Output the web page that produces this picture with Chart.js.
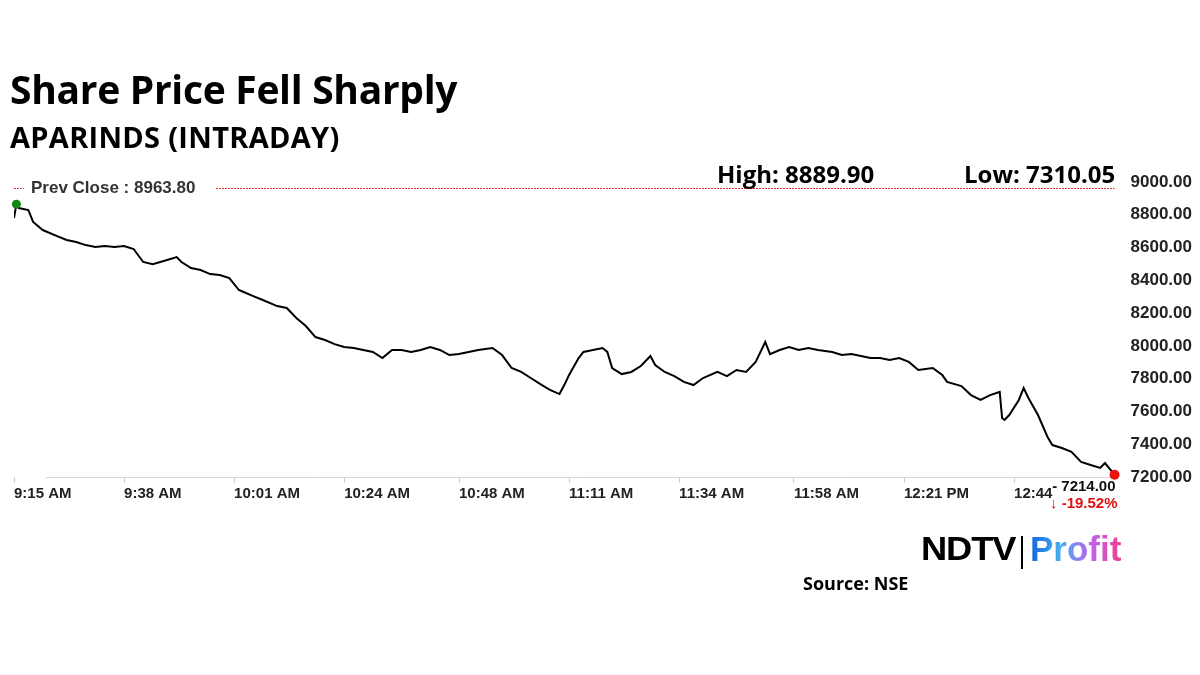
<!DOCTYPE html>
<html>
<head>
<meta charset="utf-8">
<script src="https://cdn.jsdelivr.net/npm/chart.js@4"></script>
<style>
  body { margin: 0; background: #fff; width: 1200px; height: 675px; overflow: hidden; position: relative; font-family: "Open Sans", sans-serif; }
  #wrap { position: absolute; left: 0; top: 0; width: 1200px; height: 675px; }
  .t { position: absolute; font-weight: 700; color: #000; white-space: nowrap; }
</style>
</head>
<body>
<div id="wrap"><canvas id="c" width="1200" height="675"></canvas></div>
<div class="t" style="left:10px;top:62px;font-size:39px;letter-spacing:-0.3px;">Share Price Fell Sharply</div>
<div class="t" style="left:10px;top:117px;font-size:29px;letter-spacing:0.3px;">APARINDS (INTRADAY)</div>
<div class="t" style="left:717px;top:157px;font-size:24px;">High: 8889.90</div>
<div class="t" style="left:964px;top:157px;font-size:24px;">Low: 7310.05</div>
<div class="t" style="left:921px;top:530px;font-size:33px;font-family:'Liberation Sans',sans-serif;font-weight:900;letter-spacing:-1px;transform:scaleX(1.1);transform-origin:left;">NDTV</div>
<div style="position:absolute;left:1021px;top:536px;width:2px;height:33px;background:#000;"></div>
<div class="t" style="left:1030px;top:529px;font-size:35px;font-family:'Liberation Sans',sans-serif;background:linear-gradient(90deg,#1565e0,#44b0f0,#c060f0,#f04090);-webkit-background-clip:text;color:transparent;">Profit</div>
<div class="t" style="left:803px;top:571px;font-size:18px;">Source: NSE</div>
<script>
// minutes after 9:15
const minutes = [0,0.5,1,3,4,6,9,11,13,15,17,19,21,23,25,27,29,32,34,35,37,39,41,43,45,47,48,50,52,55,57,59,61,63,65,67,69,71,73,75,77,79,81,83,85,87,89,91,93,95,97,100,102,104,106,108,110,112,114,115,116,118,119,121,123,124,125,127,129,131,133,134,136,138,140,142,144,147,149,151,153,155,157,158,160,162,164,166,168,171,173,175,177,179,181,183,185,187,189,192,194,195,198,200,202,204,206,206.5,207,208,210,211,212,214,216,217,219,221,223,225,227,228,230];
const prices = [8780,8865,8841,8829,8756,8707,8670,8646,8634,8615,8603,8609,8603,8609,8591,8512,8499,8524,8542,8512,8475,8463,8438,8432,8414,8341,8329,8304,8280,8243,8231,8170,8121,8054,8036,8011,7993,7987,7975,7963,7926,7975,7975,7963,7975,7993,7975,7944,7950,7963,7975,7987,7944,7865,7841,7804,7767,7731,7706,7761,7822,7926,7963,7975,7987,7963,7865,7828,7841,7877,7938,7883,7841,7816,7780,7761,7804,7841,7816,7853,7841,7902,8024,7950,7975,7993,7975,7987,7975,7963,7944,7950,7938,7926,7926,7914,7926,7902,7853,7865,7822,7780,7755,7700,7670,7700,7719,7560,7548,7578,7670,7743,7682,7578,7444,7395,7377,7353,7292,7273,7255,7285,7214];
const tickMinutes = [0,23,46,69,93,116,139,163,186,209];
const tickLabels = ['9:15 AM','9:38 AM','10:01 AM','10:24 AM','10:48 AM','11:11 AM','11:34 AM','11:58 AM','12:21 PM','12:44'];
const yTicks = [7200,7400,7600,7800,8000,8200,8400,8600,8800,9000];
const prevClose = 8963.80;
const lastPrice = 7214.00;
const changePct = '-19.52%';

const overlay = {
  id: 'overlay',
  beforeDatasetsDraw(chart) {
    const { ctx, chartArea } = chart;
    const by = Math.round(chartArea.bottom) + 0.5;
    ctx.save();
    ctx.strokeStyle = '#d8d8d8';
    ctx.lineWidth = 1;
    ctx.beginPath();
    ctx.moveTo(46, by); ctx.lineTo(chartArea.right, by);
    ctx.stroke();
    ctx.restore();
  },
  afterDatasetsDraw(chart) {
    const { ctx, scales: { x, y }, chartArea } = chart;
    const py = Math.round(y.getPixelForValue(prevClose)) + 0.5;
    ctx.save();
    ctx.strokeStyle = '#e03030';
    ctx.lineWidth = 1;
    ctx.setLineDash([2, 1]);
    ctx.beginPath();
    ctx.moveTo(chartArea.left, py); ctx.lineTo(chartArea.left + 10, py);
    ctx.moveTo(216, py); ctx.lineTo(chartArea.right, py);
    ctx.stroke();
    ctx.setLineDash([]);
    ctx.font = 'bold 17px "Liberation Sans", Arial';
    ctx.fillStyle = '#333';
    ctx.textBaseline = 'middle';
    ctx.fillText('Prev Close : ' + prevClose.toFixed(2), 31, py);
    // start / end dots
    const sx = x.getPixelForValue(minutes[1]), sy = y.getPixelForValue(prices[1]);
    ctx.fillStyle = '#118811';
    ctx.beginPath(); ctx.arc(sx, sy, 4.5, 0, Math.PI * 2); ctx.fill();
    const n = prices.length - 1;
    const ex = x.getPixelForValue(minutes[n]), ey = y.getPixelForValue(prices[n]);
    ctx.fillStyle = '#ee1111';
    ctx.beginPath(); ctx.arc(ex, ey, 5, 0, Math.PI * 2); ctx.fill();
    ctx.textAlign = 'right';
    ctx.fillStyle = '#111';
    ctx.font = 'bold 15px "Liberation Sans", Arial';
    ctx.fillText('- ' + lastPrice.toFixed(2), ex + 1, chartArea.bottom + 10);
    ctx.fillStyle = '#e01010';
    ctx.fillText('\u2193 ' + changePct, ex + 3, chartArea.bottom + 27);
    ctx.restore();
  }
};

new Chart(document.getElementById('c'), {
  type: 'line',
  data: {
    datasets: [{
      data: minutes.map((m, i) => ({ x: m, y: prices[i] })),
      borderColor: '#000',
      borderWidth: 2,
      pointRadius: 0,
      tension: 0
    }]
  },
  options: {
    responsive: false,
    animation: false,
    layout: { padding: { left: 14, top: 182, right: 0, bottom: 170 } },
    plugins: { legend: { display: false }, tooltip: { enabled: false } },
    scales: {
      x: {
        type: 'linear', min: 0, max: 230,
        afterBuildTicks: s => { s.ticks = tickMinutes.map(v => ({ value: v })); },
        ticks: {
          callback: (v) => tickLabels[tickMinutes.indexOf(v)],
          color: '#222', font: { family: 'Liberation Sans', size: 15, weight: 'bold' },
          maxRotation: 0, autoSkip: false, padding: 2, align: 'start'
        },
        grid: { display: true, drawOnChartArea: false, tickLength: 6, color: '#ccc' },
        border: { display: false }
      },
      y: {
        position: 'right', min: 7200, max: 9000,
        afterBuildTicks: s => { s.ticks = yTicks.map(v => ({ value: v })); },
        ticks: {
          callback: v => v.toFixed(2),
          color: '#222', font: { family: 'Liberation Sans', size: 17, weight: 'bold' }, padding: 8
        },
        grid: { display: false },
        border: { display: false }
      }
    }
  },
  plugins: [overlay]
});
</script>
</body>
</html>
